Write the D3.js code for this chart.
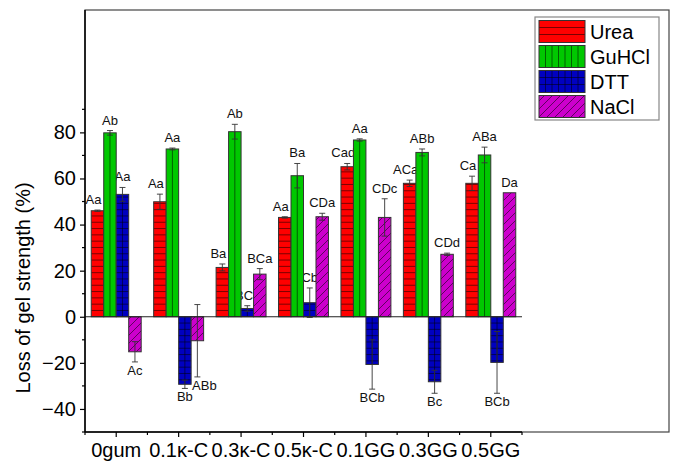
<!DOCTYPE html>
<html>
<head>
<meta charset="utf-8">
<script src="https://cdn.jsdelivr.net/npm/d3@7"></script>
<style>
  body { margin: 0; background: #fff; }
  svg { font-family: "Liberation Sans", Arial, sans-serif; }
</style>
</head>
<body>
<div id="chart"></div>
<script>
// ---- data ----
const categories = ["0gum", "0.1\u03BA-C", "0.3\u03BA-C", "0.5\u03BA-C", "0.1GG", "0.3GG", "0.5GG"];
const seriesNames = ["Urea", "GuHCl", "DTT", "NaCl"];

const ureaVals  = [46.0, 49.9, 21.4, 43.1, 65.1, 57.9, 57.9];
const ureaErr   = [0.3, 3.3, 1.5, 0.3, 1.4, 1.4, 3.1];
const guhclVals = [79.8, 72.8, 80.3, 61.2, 76.7, 71.3, 70.2];
const guhclErr  = [1.0, 0.4, 3.2, 5.3, 0.5, 1.5, 3.4];
const dttVals   = [53.1, -29.3, 3.6, 6.1, -20.7, -28.2, -19.8];
const dttErr    = [3.0, 1.8, 1.2, 6.4, 10.7, 5.0, 13.4];
const naclVals  = [-15.2, -10.4, 18.5, 43.4, 43.1, 27.1, 53.8];
const naclErr   = [4.4, 15.7, 2.4, 1.5, 8.1, 0.5, 0];

const ureaLabels  = ["Aa", "Aa", "Ba", "Aa", "Cad", "ACa", "Ca"];
const guhclLabels = ["Ab", "Aa", "Ab", "Ba", "Aa", "ABb", "ABa"];
const dttLabels   = ["Aa", "Bb", "BCc", "Cb", "BCb", "Bc", "BCb"];
const naclLabels  = ["Ac", "ABb", "BCa", "CDa", "CDc", "CDd", "Da"];

const yMajorTicks = [-40, -20, 0, 20, 40, 60, 80];
const yMinorTicks = [-50, -30, -10, 10, 30, 50, 70, 90];

// ---- setup ----
const W = 674, H = 464;
const margin = { left: 85, top: 10, axisRight: 522, frameRight: 669, bottom: 432 };

const colors = { Urea: "#ff0000", GuHCl: "#00c800", DTT: "#0000c0", NaCl: "#cc00cc" };
const hatchType = { Urea: "h", GuHCl: "v", DTT: "grid", NaCl: "diag" };
// letter labels of the first series sit a little left of their bar
const labelShift = { Urea: -4, GuHCl: 0, DTT: 0, NaCl: 0 };

const svg = d3.select("#chart").append("svg")
    .attr("width", W)
    .attr("height", H);

const defs = svg.append("defs");
defs.append("pattern")
    .attr("id", "diag")
    .attr("patternUnits", "userSpaceOnUse")
    .attr("width", 8).attr("height", 8)
  .append("path")
    .attr("d", "M0,8 L8,0 M-2,2 L2,-2 M6,10 L10,6")
    .attr("stroke", "#300030")
    .attr("stroke-width", 0.7);

// Scales
const x0 = d3.scaleBand()
    .domain(categories)
    .range([margin.left, margin.axisRight]);
const bw = x0.bandwidth();
const x1 = d3.scaleBand()
    .domain(seriesNames)
    .range([0.1 * bw, 0.9 * bw]);
const y = d3.scaleLinear()
    .domain([-50, 133.1])
    .range([margin.bottom, margin.top]);

const data = seriesNames.map(function(s, si) {
    const vals = [ureaVals, guhclVals, dttVals, naclVals][si];
    const errs = [ureaErr, guhclErr, dttErr, naclErr][si];
    const labs = [ureaLabels, guhclLabels, dttLabels, naclLabels][si];
    return categories.map(function(c, i) {
        return { cat: c, idx: i, series: s, value: vals[i], err: errs[i], label: labs[i] };
    });
}).flat();

function labelY(d) {
    return d.value >= 0 ? y(d.value + d.err) - 6 : y(d.value - d.err) + 13;
}
function labelX(d) {
    let lx = x0(d.cat) + x1(d.series) + x1.bandwidth() / 2 + labelShift[d.series];
    // push a NaCl label right when the DTT label next to it sits at nearly the same height
    if (d.series === "NaCl" && d.value < 0 && dttVals[d.idx] < 0) {
        const nb = { value: dttVals[d.idx], err: dttErr[d.idx] };
        if (Math.abs(labelY(nb) - labelY(d)) < 16) lx += 7;
    }
    return lx;
}

// Frame (layer border)
svg.append("rect")
    .attr("x", margin.left).attr("y", margin.top)
    .attr("width", margin.frameRight - margin.left)
    .attr("height", margin.bottom - margin.top)
    .attr("fill", "none")
    .attr("stroke", "#444")
    .attr("stroke-width", 1.2);

const g = svg.append("g");

// Letter labels go under the bars (some are partly hidden in the original)
g.selectAll(".sig")
    .data(data)
    .enter().append("text")
    .attr("class", "sig")
    .attr("x", labelX)
    .attr("y", labelY)
    .attr("text-anchor", "middle")
    .attr("font-size", "13px")
    .attr("fill", "#111")
    .text(d => d.label);

// Bars with hatching
function drawBar(sel, bx, by0, bw2, bh, type, color, baseY) {
    sel.append("rect")
        .attr("x", bx).attr("y", by0)
        .attr("width", bw2).attr("height", bh)
        .attr("fill", color);
    if (type === "diag") {
        sel.append("rect")
            .attr("x", bx).attr("y", by0)
            .attr("width", bw2).attr("height", bh)
            .attr("fill", "url(#diag)");
    }
    const lineCol = "rgba(0,0,0,0.75)";
    if (type === "h" || type === "grid") {
        // horizontal lines counted out from the base line
        const step = 6.3;
        const top = by0, bot = by0 + bh;
        let ys = [];
        for (let yy = baseY - step; yy > top + 0.5; yy -= step) ys.push(yy);
        for (let yy = baseY + step; yy < bot - 0.5; yy += step) ys.push(yy);
        sel.selectAll(null).data(ys).enter().append("line")
            .attr("x1", bx).attr("x2", bx + bw2)
            .attr("y1", d => d).attr("y2", d => d)
            .attr("stroke", lineCol).attr("stroke-width", 0.7);
    }
    if (type === "v" || type === "grid") {
        const step = bw2 / 2;
        const xs = d3.range(bx + step, bx + bw2 - 0.5, step);
        sel.selectAll(null).data(xs).enter().append("line")
            .attr("x1", d => d).attr("x2", d => d)
            .attr("y1", by0).attr("y2", by0 + bh)
            .attr("stroke", lineCol).attr("stroke-width", 0.7);
    }
    sel.append("rect")
        .attr("x", bx).attr("y", by0)
        .attr("width", bw2).attr("height", bh)
        .attr("fill", "none")
        .attr("stroke", "#333")
        .attr("stroke-width", 1);
}

const bars = g.selectAll(".bar")
    .data(data)
    .enter().append("g")
    .attr("class", "bar");

bars.each(function(d) {
    const bx = x0(d.cat) + x1(d.series);
    const yTop = y(Math.max(0, d.value));
    const yBot = y(Math.min(0, d.value));
    drawBar(d3.select(this), bx, yTop, x1.bandwidth(), yBot - yTop,
        hatchType[d.series], colors[d.series], y(0));
});

// Error bars
const errs = g.selectAll(".err")
    .data(data.filter(d => d.err > 0))
    .enter().append("g")
    .attr("class", "err")
    .attr("stroke", "#333")
    .attr("stroke-width", 0.9);
errs.append("line")
    .attr("x1", d => x0(d.cat) + x1(d.series) + x1.bandwidth() / 2)
    .attr("x2", d => x0(d.cat) + x1(d.series) + x1.bandwidth() / 2)
    .attr("y1", d => y(d.value - d.err))
    .attr("y2", d => y(d.value + d.err));
[-1, 1].forEach(function(sgn) {
    errs.append("line")
        .attr("x1", d => x0(d.cat) + x1(d.series) + x1.bandwidth() / 2 - 3)
        .attr("x2", d => x0(d.cat) + x1(d.series) + x1.bandwidth() / 2 + 3)
        .attr("y1", d => y(d.value + sgn * d.err))
        .attr("y2", d => y(d.value + sgn * d.err));
});

// Zero line
g.append("line")
    .attr("x1", margin.left).attr("x2", margin.axisRight)
    .attr("y1", y(0)).attr("y2", y(0))
    .attr("stroke", "#222").attr("stroke-width", 1.2);

// ---- axes ----
const yAxisCall = d3.axisLeft(y)
    .tickValues(yMajorTicks)
    .tickSize(5)
    .tickPadding(4)
    .tickFormat(d3.format("d"));
const yAxis = svg.append("g")
    .attr("transform", "translate(" + margin.left + ",0)")
    .call(yAxisCall);
yAxis.select(".domain").remove();
yAxis.selectAll(".tick text").attr("font-size", "20px").attr("fill", "#000")
    .attr("font-family", "Liberation Sans, Arial, sans-serif");
yAxis.selectAll(".tick line").attr("stroke-width", 1.2);
yAxis.selectAll(".minor")
    .data(yMinorTicks)
    .enter().append("line")
    .attr("class", "minor")
    .attr("x1", -3).attr("x2", 0)
    .attr("y1", d => y(d)).attr("y2", d => y(d))
    .attr("stroke", "#000").attr("stroke-width", 1.2);
svg.append("line")
    .attr("x1", margin.left).attr("x2", margin.left)
    .attr("y1", margin.top).attr("y2", margin.bottom)
    .attr("stroke", "#000").attr("stroke-width", 1.5);

const xAxisCall = d3.axisBottom(x0)
    .tickSize(5)
    .tickPadding(6)
    .tickSizeOuter(0);
const xAxis = svg.append("g")
    .attr("transform", "translate(0," + margin.bottom + ")")
    .call(xAxisCall);
xAxis.select(".domain").remove();
xAxis.selectAll(".tick text").attr("font-size", "20px").attr("fill", "#000")
    .attr("font-family", "Liberation Sans, Arial, sans-serif");
xAxis.selectAll(".tick line").attr("stroke-width", 1.2);
// minor ticks at the band edges
xAxis.selectAll(".minor")
    .data(categories.map(c => x0(c)).concat([x0(categories[categories.length - 1]) + bw]))
    .enter().append("line")
    .attr("class", "minor")
    .attr("x1", d => d).attr("x2", d => d)
    .attr("y1", 0).attr("y2", 3)
    .attr("stroke", "#000").attr("stroke-width", 1.2);
svg.append("line")
    .attr("x1", margin.left).attr("x2", margin.axisRight)
    .attr("y1", margin.bottom).attr("y2", margin.bottom)
    .attr("stroke", "#000").attr("stroke-width", 1.5);

// Y axis label
svg.append("text")
    .attr("transform", "translate(30," + 288 + ") rotate(-90)")
    .attr("text-anchor", "middle")
    .attr("font-size", "20px")
    .attr("fill", "#000")
    .text("Loss of gel strength (%)");

// ---- legend ----
const legend = svg.append("g");
legend.append("rect")
    .attr("x", 535).attr("y", 17)
    .attr("width", 124).attr("height", 103)
    .attr("fill", "#fff")
    .attr("stroke", "#888")
    .attr("stroke-width", 1.2);

seriesNames.forEach(function(s, i) {
    const ly = 20.5 + i * 25;
    const sw = legend.append("g");
    const type = hatchType[s];
    sw.append("rect")
        .attr("x", 539).attr("y", ly).attr("width", 46).attr("height", 22)
        .attr("fill", colors[s]);
    if (type === "diag") {
        sw.append("rect")
            .attr("x", 539).attr("y", ly).attr("width", 46).attr("height", 22)
            .attr("fill", "url(#diag)");
    }
    if (type === "h" || type === "grid") {
        sw.selectAll(null).data(d3.range(ly + 7, ly + 21, 7)).enter().append("line")
            .attr("x1", 539).attr("x2", 585)
            .attr("y1", d => d).attr("y2", d => d)
            .attr("stroke", "rgba(0,0,0,0.75)").attr("stroke-width", 0.7);
    }
    if (type === "v" || type === "grid") {
        sw.selectAll(null).data(d3.range(539 + 6.5, 584, 6.5)).enter().append("line")
            .attr("x1", d => d).attr("x2", d => d)
            .attr("y1", ly).attr("y2", ly + 22)
            .attr("stroke", "rgba(0,0,0,0.75)").attr("stroke-width", 0.7);
    }
    sw.append("rect")
        .attr("x", 539).attr("y", ly).attr("width", 46).attr("height", 22)
        .attr("fill", "none").attr("stroke", "#333").attr("stroke-width", 1);
    legend.append("text")
        .attr("x", 590).attr("y", ly + 18)
        .attr("font-size", "20px")
        .attr("fill", "#000")
        .text(s);
});
</script>
</body>
</html>
